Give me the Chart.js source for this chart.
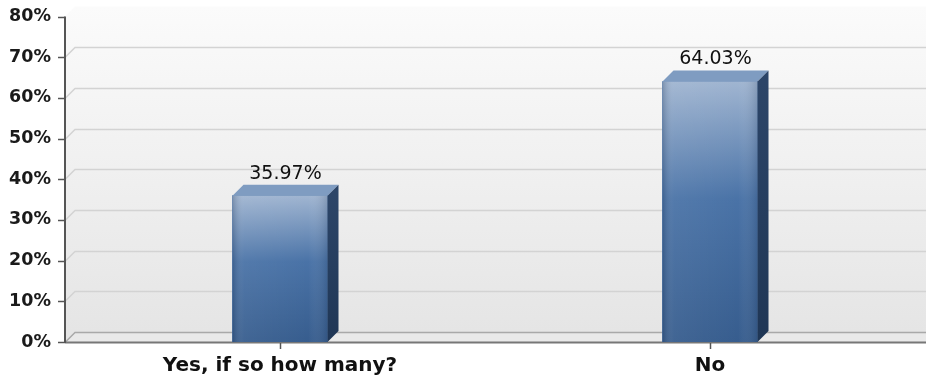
<!DOCTYPE html>
<html>
<head>
<meta charset="utf-8">
<script src="https://cdn.jsdelivr.net/npm/chart.js@4/dist/chart.umd.min.js"></script>
<style>
  html, body { margin: 0; padding: 0; background: #fff; }
  #wrap { width: 926px; height: 379px; }
</style>
</head>
<body>
<div id="wrap"><canvas id="myChart1"></canvas></div>
<script>
var categories = ['Yes, if so how many?', 'No'];
var percents = [35.97, 64.03];
var yTicks = [0, 10, 20, 30, 40, 50, 60, 70, 80];

var WALL = 10;   // depth of the back wall
var DEPTH = 11;  // depth of each bar

// back wall, floor and grid, drawn before the bars
var wallPlugin = {
    id: 'wall3d',
    beforeDatasetsDraw: function (chart) {
        var c = chart.ctx, a = chart.chartArea, y = chart.scales.y;
        var right = chart.width;
        var top = y.getPixelForValue(80), bottom = y.getPixelForValue(0);
        c.save();
        // back wall
        var g = c.createLinearGradient(0, top - WALL, 0, bottom - WALL);
        g.addColorStop(0, '#fbfbfb');
        g.addColorStop(1, '#e5e5e5');
        c.fillStyle = g;
        c.fillRect(a.left + WALL, top - WALL, right - a.left - WALL, bottom - top);
        // left wall
        c.beginPath();
        c.moveTo(a.left, top); c.lineTo(a.left + WALL, top - WALL);
        c.lineTo(a.left + WALL, bottom - WALL); c.lineTo(a.left, bottom);
        c.closePath();
        c.fill();
        // floor
        c.fillStyle = '#e9e9e9';
        c.beginPath();
        c.moveTo(a.left, bottom); c.lineTo(a.left + WALL, bottom - WALL);
        c.lineTo(right, bottom - WALL); c.lineTo(right, bottom);
        c.closePath();
        c.fill();
        // grid lines on the back wall
        c.lineWidth = 1.5;
        yTicks.forEach(function (t) {
            if (t === 80) return;
            var py = Math.round(y.getPixelForValue(t)) + 0.5;
            c.strokeStyle = t === 0 ? '#a9a9a9' : '#d3d3d3';
            c.beginPath();
            c.moveTo(a.left, py);
            c.lineTo(a.left + WALL, py - WALL);
            c.lineTo(right, py - WALL);
            c.stroke();
        });
        // front floor edge
        c.strokeStyle = '#777';
        c.lineWidth = 2;
        c.beginPath();
        c.moveTo(a.left, bottom + 0.5); c.lineTo(right, bottom + 0.5);
        c.stroke();
        // y axis line and ticks
        c.strokeStyle = '#555';
        c.beginPath();
        c.moveTo(a.left, top); c.lineTo(a.left, bottom + 1);
        c.stroke();
        c.lineWidth = 1.5;
        yTicks.forEach(function (t) {
            var py = Math.round(y.getPixelForValue(t)) + 0.5;
            c.beginPath(); c.moveTo(a.left - 7, py); c.lineTo(a.left, py); c.stroke();
        });
        // x ticks
        var x = chart.scales.x;
        categories.forEach(function (cat, i) {
            var px = Math.round(x.getPixelForValue(i)) + 0.5;
            c.beginPath(); c.moveTo(px, bottom + 1); c.lineTo(px, bottom + 7); c.stroke();
        });
        c.restore();
    },
    // shaded faces and value labels
    afterDatasetsDraw: function (chart) {
        var c = chart.ctx;
        var meta = chart.getDatasetMeta(0);
        c.save();
        meta.data.forEach(function (bar, i) {
            var x0 = bar.x - bar.width / 2, x1 = bar.x + bar.width / 2;
            var t = bar.y, b = bar.base;
            // front
            var g = c.createLinearGradient(0, t, 0, b);
            g.addColorStop(0, '#a0b5d1');
            g.addColorStop(0.45, '#4a73a7');
            g.addColorStop(1, '#375d8e');
            c.fillStyle = g;
            c.fillRect(x0, t, x1 - x0, b - t);
            var h = c.createLinearGradient(x0, 0, x1, 0);
            h.addColorStop(0, 'rgba(20,40,70,0.25)');
            h.addColorStop(0.12, 'rgba(255,255,255,0.05)');
            h.addColorStop(0.8, 'rgba(255,255,255,0)');
            h.addColorStop(1, 'rgba(20,40,70,0.18)');
            c.fillStyle = h;
            c.fillRect(x0, t, x1 - x0, b - t);
            // top
            c.fillStyle = '#7f9cc1';
            c.beginPath();
            c.moveTo(x0, t); c.lineTo(x0 + DEPTH, t - DEPTH);
            c.lineTo(x1 + DEPTH, t - DEPTH); c.lineTo(x1, t);
            c.closePath(); c.fill();
            // side
            var s = c.createLinearGradient(0, t, 0, b);
            s.addColorStop(0, '#2c4568');
            s.addColorStop(1, '#1f3655');
            c.fillStyle = s;
            c.beginPath();
            c.moveTo(x1, t); c.lineTo(x1 + DEPTH, t - DEPTH);
            c.lineTo(x1 + DEPTH, b - DEPTH); c.lineTo(x1, b);
            c.closePath(); c.fill();
            // value label
            c.fillStyle = '#111';
            c.font = '19px "DejaVu Sans", Verdana, sans-serif';
            c.textAlign = 'center';
            c.textBaseline = 'alphabetic';
            c.fillText(percents[i].toFixed(2) + '%', bar.x + DEPTH / 2, t - DEPTH - 6);
        });
        c.restore();
    }
};

var ctx = document.getElementById('myChart1');
new Chart(ctx, {
    type: 'bar',
    data: {
        labels: categories,
        datasets: [
            {
                data: percents,
                backgroundColor: '#4a73a7',
                barThickness: 95,
                categoryPercentage: 1
            }
        ]
    },
    plugins: [wallPlugin],
    options: {
        responsive: true,
        maintainAspectRatio: false,
        animation: false,
        layout: { padding: { top: 9, right: 1, left: 0, bottom: 0 } },
        plugins: {
            legend: { display: false },
            tooltip: { enabled: false }
        },
        scales: {
            x: {
                grid: { display: false },
                border: { display: false },
                afterFit: function (scale) { scale.height = 37; },
                ticks: {
                    color: '#111',
                    padding: 4,
                    font: { family: '"DejaVu Sans", Verdana, sans-serif', size: 20, weight: 'bold' }
                }
            },
            y: {
                min: 0,
                max: 80,
                grid: { display: false },
                border: { display: false },
                afterFit: function (scale) { scale.width = 65; },
                afterBuildTicks: function (scale) {
                    scale.ticks = yTicks.map(function (v) { return { value: v }; });
                },
                ticks: {
                    color: '#1a1a1a',
                    padding: 6,
                    font: { family: '"DejaVu Sans", Verdana, sans-serif', size: 17.5, weight: 'bold' },
                    callback: function (v) { return v + '%'; }
                }
            }
        }
    }
});
</script>
</body>
</html>
